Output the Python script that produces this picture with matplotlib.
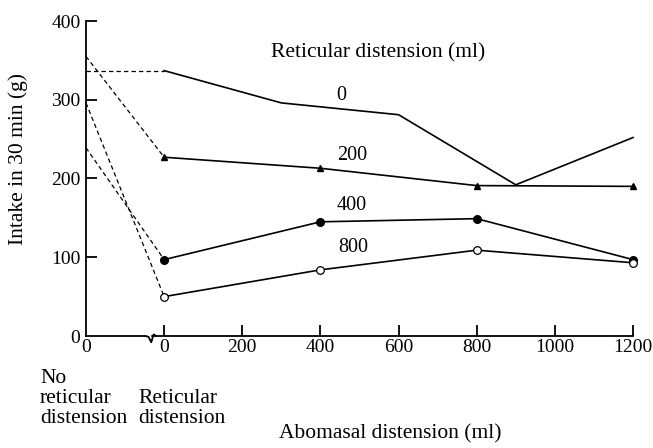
import matplotlib
matplotlib.use('Agg')
import matplotlib.pyplot as plt

plt.rcParams['font.family'] = ['Liberation Serif', 'DejaVu Serif']

# x = -200 stands for "no reticular distension"
NO_RET_X = -200
ABOMASAL_ML = [0, 400, 800, 1200]

RET0_START = 337
RET0_X = [0, 300, 600, 900, 1200]
RET0_Y = [337, 296, 281, 192, 252]

RET200_START = 355
RET200_Y = [227, 213, 191, 190]

RET400_START = 239
RET400_Y = [97, 145, 149, 97]

RET800_START = 296
RET800_Y = [50, 84, 109, 93]

SERIES_LABELS = ['0', '200', '400', '800']
LABEL_POS = [(453, 306), (481, 229), (481, 166), (483, 112)]

W, H = 653, 448
AX_L, AX_R, AX_B, AX_T = 86, 633, 336, 21
fig = plt.figure(figsize=(W / 100, H / 100), dpi=100)
ax = fig.add_axes([AX_L / W, 1 - AX_B / H, (AX_R - AX_L) / W, (AX_B - AX_T) / H])

dash_kw = dict(color='black', linewidth=0.9, linestyle=(0, (3.5, 2.5)), clip_on=False)
line_kw = dict(color='black', linewidth=1.2, clip_on=False)

# dashed links from "no reticular distension" to first abomasal point
ax.plot([NO_RET_X, 0], [RET0_START, RET0_Y[0]], **dash_kw)
ax.plot([NO_RET_X, 0], [RET200_START, RET200_Y[0]], **dash_kw)
ax.plot([NO_RET_X, 0], [RET400_START, RET400_Y[0]], **dash_kw)
ax.plot([NO_RET_X, 0], [RET800_START, RET800_Y[0]], **dash_kw)

ax.plot(RET0_X, RET0_Y, **line_kw)
ax.plot(ABOMASAL_ML, RET200_Y, marker='^', markersize=4.5, markerfacecolor='black', **line_kw)
ax.plot(ABOMASAL_ML, RET400_Y, marker='o', markersize=5.5, markerfacecolor='black', **line_kw)
ax.plot(ABOMASAL_ML, RET800_Y, marker='o', markersize=5.5, markerfacecolor='white',
        markeredgewidth=0.9, **line_kw)

for lab, (x, y) in zip(SERIES_LABELS, LABEL_POS):
    ax.text(x, y, lab, ha='center', va='center', fontsize=14.5)
ax.text(548, 359, 'Reticular distension (ml)', ha='center', va='center', fontsize=15.5)

ax.set_xlim(-200, 1200)
ax.set_ylim(0, 400)
for s in ('top', 'right'):
    ax.spines[s].set_visible(False)
ax.spines['left'].set_linewidth(1.3)
ax.spines['bottom'].set_linewidth(1.3)

ax.set_xticks([-200, 0, 200, 400, 600, 800, 1000, 1200])
ax.set_xticklabels(['0', '0', '200', '400', '600', '800', '1000', '1200'])
ax.set_yticks([0, 100, 200, 300, 400])
ax.tick_params(direction='in', length=8, width=1.3, labelsize=14)
ax.tick_params(axis='x', pad=2)
ax.tick_params(axis='y', pad=4)
ax.xaxis.get_major_ticks()[0].tick1line.set_visible(False)
ax.yaxis.get_major_ticks()[0].tick1line.set_visible(False)

# axis break mark between the two zero points
ax.plot([-45, -38], [0, 0], color='white', linewidth=2.5, clip_on=False, zorder=5)
ax.plot([-48, -40, -33, -27, -20], [0, -1, -8, 2, 0], color='black', linewidth=1.3,
        clip_on=False, zorder=6)

fig.text(18 / W, 1 - 159 / H, 'Intake in 30 min (g)', rotation=90, ha='center',
         va='center', fontsize=15.5)
fig.text(390 / W, 1 - 438 / H, 'Abomasal distension (ml)', ha='center', va='baseline',
         fontsize=15.5)
for txt, y in zip(['No', 'reticular', 'distension'], [383, 403, 423]):
    fig.text(40 / W, 1 - y / H, txt, ha='left', va='baseline', fontsize=15.5)
for txt, y in zip(['Reticular', 'distension'], [403, 423]):
    fig.text(138 / W, 1 - y / H, txt, ha='left', va='baseline', fontsize=15.5)

fig.savefig('out.png', dpi=100)
